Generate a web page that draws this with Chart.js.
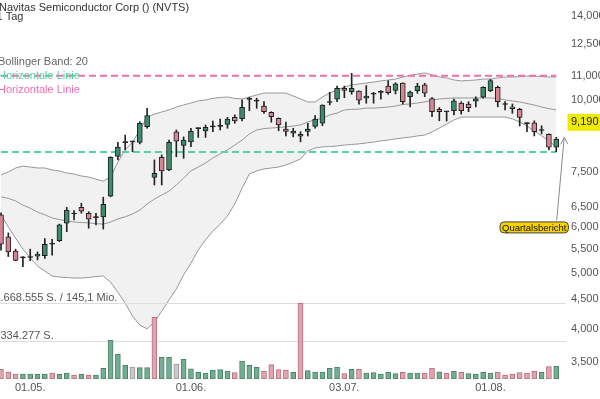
<!DOCTYPE html>
<html lang="de">
<head>
<meta charset="UTF-8">
<title>Navitas Semiconductor Corp (NVTS)</title>
<script src="https://cdn.jsdelivr.net/npm/chart.js@4.4.1/dist/chart.umd.min.js"></script>
<style>
    body { margin: 0; background: #fff; }
    #wrap { width: 600px; height: 399px; }
</style>
</head>
<body>
<div id="wrap"><canvas id="chart" width="600" height="399"></canvas></div>
<script>
// trading days (2023)
const dates = [
    '25.04.','26.04.','27.04.','28.04.',
    '01.05.','02.05.','03.05.','04.05.','05.05.','08.05.','09.05.','10.05.','11.05.','12.05.',
    '15.05.','16.05.','17.05.','18.05.','19.05.','22.05.','23.05.','24.05.','25.05.','26.05.','30.05.','31.05.',
    '01.06.','02.06.','05.06.','06.06.','07.06.','08.06.','09.06.','12.06.','13.06.','14.06.','15.06.','16.06.',
    '20.06.','21.06.','22.06.','23.06.','26.06.','27.06.','28.06.','29.06.','30.06.',
    '03.07.','05.07.','06.07.','07.07.','10.07.','11.07.','12.07.','13.07.','14.07.','17.07.','18.07.','19.07.',
    '20.07.','21.07.','24.07.','25.07.','26.07.','27.07.','28.07.','31.07.',
    '01.08.','02.08.','03.08.','04.08.','07.08.','08.08.','09.08.','10.08.','11.08.','14.08.'
];
const dateTicks = ['01.05.', '01.06.', '03.07.', '01.08.'];

const open = [6.31,5.78,5.46,5.32,5.32,5.35,5.36,5.61,5.69,6.10,
    6.33,6.50,6.35,6.24,6.26,6.80,7.97,8.42,8.45,8.43,
    8.98,7.33,7.94,7.55,8.79,8.33,8.45,8.91,8.83,8.97,
    8.99,9.06,9.32,9.27,10.01,9.94,9.75,9.51,9.28,8.89,
    8.75,8.64,8.81,8.99,9.10,9.89,10.02,10.47,10.33,10.35,
    10.06,10.22,10.30,10.56,10.38,10.69,10.12,10.37,10.61,10.04,
    9.62,9.54,9.57,9.87,9.83,9.94,10.10,10.37,10.51,9.82,
    9.72,9.62,9.10,9.12,8.85,8.71,8.27];
const high = [6.36,5.87,5.50,5.34,5.50,5.44,5.74,5.72,6.08,6.50,
    6.42,6.61,6.39,6.35,6.77,7.96,8.43,8.68,8.46,9.16,
    9.66,7.86,8.02,8.51,8.86,8.62,8.92,8.94,9.04,9.18,
    9.25,9.32,9.41,9.99,10.10,10.06,9.92,9.53,9.30,9.14,
    8.92,8.80,9.10,9.38,9.80,10.30,10.56,10.56,11.11,10.36,
    10.58,10.30,10.37,10.79,10.70,10.70,10.35,10.68,10.68,10.08,
    9.69,9.55,10.02,9.92,9.92,10.12,10.53,10.85,10.56,9.92,
    9.83,9.66,9.12,9.19,9.01,8.72,8.60];
const low = [5.48,5.34,5.25,5.13,5.25,5.27,5.30,5.37,5.67,5.90,
    6.18,6.35,5.98,6.06,5.96,6.78,7.86,8.18,8.12,8.38,
    8.92,7.11,7.11,7.53,7.96,7.91,8.29,8.60,8.60,8.80,
    8.86,8.92,9.10,9.19,9.57,9.66,9.47,9.14,8.83,8.65,
    8.62,8.45,8.65,8.92,9.01,9.79,9.92,10.08,10.22,9.82,
    9.86,9.86,10.02,10.22,10.23,9.83,9.72,10.26,10.12,9.34,
    9.19,9.18,9.41,9.44,9.53,9.72,10.06,10.33,9.72,9.60,
    9.47,9.00,8.80,8.65,8.72,8.18,8.12];
const close = [5.61,5.44,5.26,5.31,5.33,5.39,5.61,5.62,6.06,6.43,
    6.34,6.40,6.20,6.25,6.58,7.94,8.27,8.43,8.45,9.10,
    9.38,7.45,7.52,8.43,8.47,8.51,8.82,8.92,8.95,8.98,
    9.00,9.25,9.19,9.70,10.02,9.95,9.53,9.34,9.04,8.81,
    8.82,8.71,8.89,9.25,9.79,9.90,10.47,10.38,10.47,9.98,
    10.15,10.23,10.31,10.28,10.65,9.92,10.31,10.56,10.26,9.53,
    9.53,9.53,9.95,9.57,9.69,10.03,10.51,10.79,9.92,9.81,
    9.65,9.32,9.09,8.80,8.84,8.27,8.54];

// Bollinger Band (20)
const bbUpper = [7.40,7.49,7.61,7.67,7.64,7.61,7.61,7.55,7.52,7.46,
    7.43,7.37,7.34,7.28,7.22,7.34,7.79,8.18,8.44,8.86,
    9.33,9.44,9.52,9.60,9.71,9.79,9.87,9.95,9.99,10.05,
    10.09,10.11,10.05,10.03,10.11,10.19,10.27,10.27,10.27,10.27,
    10.15,10.03,9.91,9.91,10.11,10.27,10.40,10.52,10.61,10.65,
    10.69,10.73,10.78,10.82,10.86,10.95,11.02,11.08,11.13,11.04,
    10.95,10.91,10.82,10.78,10.80,10.82,10.86,10.86,10.91,10.95,
    10.95,10.97,10.99,10.99,10.97,10.95,10.95];
const bbMiddle = [6.78,6.74,6.67,6.56,6.48,6.38,6.31,6.23,6.19,6.16,
    6.13,6.12,6.11,6.09,6.08,6.13,6.21,6.26,6.33,6.43,
    6.59,6.72,6.83,6.94,7.11,7.31,7.52,7.64,7.76,7.92,
    8.05,8.18,8.34,8.51,8.72,8.86,8.91,8.93,8.95,8.97,
    9.00,9.04,9.15,9.22,9.29,9.41,9.48,9.60,9.62,9.63,
    9.67,9.67,9.69,9.71,9.75,9.81,9.83,9.87,9.91,9.97,
    10.03,10.05,10.07,10.07,10.07,10.07,10.07,10.07,10.05,9.99,
    9.95,9.91,9.85,9.79,9.71,9.65,9.60];
const bbLower = [6.31,6.01,5.75,5.50,5.31,5.14,5.04,4.94,4.92,4.91,
    4.90,4.90,4.91,4.93,4.94,4.82,4.63,4.43,4.21,4.06,
    4.00,4.11,4.29,4.49,4.69,4.96,5.20,5.48,5.71,5.91,
    6.08,6.28,6.59,7.02,7.43,7.52,7.58,7.61,7.64,7.70,
    7.79,7.89,8.15,8.24,8.28,8.29,8.31,8.34,8.36,8.38,
    8.41,8.44,8.48,8.51,8.55,8.58,8.61,8.65,8.68,8.79,
    8.93,9.07,9.22,9.33,9.33,9.33,9.33,9.33,9.33,9.33,
    9.26,9.15,9.00,8.82,8.65,8.48,8.28];

// volume (Stück) and direction vs. previous close: u = up, d = down, n = unchanged
const volume = [630000,591000,556000,556000,556000,550000,556000,571000,556000,571000,
    541000,556000,541000,541000,647000,1378000,941000,701000,670000,658000,
    658000,2525000,868000,868000,726000,823000,640000,582000,571000,619000,
    624000,602000,576000,787000,701000,665000,602000,713000,624000,619000,
    582000,3668555,608000,587000,587000,647000,665000,561000,630000,630000,
    571000,576000,556000,582000,561000,582000,571000,571000,571000,653000,
    591000,567000,599000,582000,561000,556000,582000,571000,587000,541000,
    556000,576000,571000,602000,582000,676000,683000];
const volDir = ['d','d','d','u','u','u','u','d','u','u',
    'd','u','d','u','u','u','u','u','n','u',
    'u','d','u','u','n','u','u','u','u','u',
    'u','u','d','u','u','u','d','d','d','d',
    'u','d','u','u','u','u','u','d','u','d',
    'u','u','u','u','u','d','u','u','d','d',
    'u','d','u','d','u','u','u','u','d','d',
    'd','d','d','d','u','d','u'];
const volMax = 3668555;
const volAvg = 1334277;

const priceTicks = [3.5, 4, 4.5, 5, 5.5, 6, 6.5, 7.5, 10, 11, 12.5, 14];
const hLinePink = 11.0;
const hLineGreen = 8.11;
const lastPrice = 9.19;
const eventDate = '14.08.';
const eventPrice = 6.0;

// axis ranges
const xMin = -0.137, xMax = 77.34;
const yMin = 3.272, yMax = 14.90;
const volMin = 486500, volTop = 1.206e10;

const family = '"Liberation Sans", Arial, sans-serif';
const pink = '#f06eb0';
const green = '#55d4a2';

const fmtPrice = v => v.toFixed(3).replace('.', ',');
const idx = dates.map((_, i) => i);

const bodyColors = close.map((c, i) => Math.abs(c - open[i]) < 0.015 ? '#1e1e1e' : (c > open[i] ? '#3c8c6c' : '#d68593'));
const volFill = { u: '#74ad94', d: '#e2a4ae', n: '#c9c9c9' };
const volLine = { u: '#4a8468', d: '#b4707c', n: '#9b9b9b' };

const overlay = {
    id: 'overlay',
    afterDatasetDraw(chart, args) {
        // volume reference lines sit on top of the band fill
        if (args.index !== 0) return;
        const { ctx, chartArea: a } = chart;
        const v = chart.scales.vol;
        ctx.save();
        ctx.font = '11px ' + family;
        ctx.strokeStyle = '#dcdcdc';
        ctx.lineWidth = 1;
        ctx.fillStyle = '#555';
        const rows = [
            [volMax, volMax.toLocaleString('de-DE') + ' S. / 145,1 Mio.', '3'],
            [volAvg, volAvg.toLocaleString('de-DE') + ' S.', '1.']
        ];
        rows.forEach(([val, text, hidden]) => {
            const py = Math.round(v.getPixelForValue(val)) + 0.5;
            ctx.beginPath();
            ctx.moveTo(a.left, py);
            ctx.lineTo(a.right, py);
            ctx.stroke();
            ctx.fillText(text, 0.5 - ctx.measureText(hidden).width, py - 3);
        });
        ctx.restore();
    },
    afterDraw(chart) {
        const { ctx, chartArea: a, scales: { x, y } } = chart;
        ctx.save();
        ctx.font = '11px ' + family;
        ctx.textBaseline = 'alphabetic';
        ctx.fillStyle = '#333';
        ctx.fillText('Navitas Semiconductor Corp () (NVTS)', -1, 10.5);
        ctx.fillText('1 Tag', -3.5, 20.2);
        ctx.fillStyle = '#666';
        ctx.fillText('Bollinger Band: 20', -2, 65);
        ctx.fillStyle = green;
        ctx.fillText('Horizontale Linie', -2, 79);
        ctx.fillStyle = pink;
        ctx.fillText('Horizontale Linie', -2, 93);

        // last price tag
        const py = y.getPixelForValue(lastPrice);
        ctx.fillStyle = '#eeea00';
        ctx.fillRect(a.right + 1.5, py - 7, 40, 17);
        ctx.fillStyle = '#222';
        ctx.textBaseline = 'middle';
        ctx.fillText(fmtPrice(lastPrice), a.right + 5, py + 1.5);

        // event marker
        const ei = dates.indexOf(eventDate);
        const ex = x.getPixelForValue(ei);
        const tipX = ex + 8, tipY = y.getPixelForValue(high[ei]);
        const ly = y.getPixelForValue(eventPrice);
        ctx.strokeStyle = '#8a8a8a';
        ctx.lineWidth = 1;
        ctx.beginPath();
        ctx.moveTo(ex + 0.5, ly - 7);
        ctx.lineTo(tipX, tipY);
        ctx.moveTo(tipX - 3.5, tipY + 7);
        ctx.lineTo(tipX, tipY);
        ctx.lineTo(tipX + 3.5, tipY + 6.5);
        ctx.stroke();

        ctx.font = '9.5px ' + family;
        const label = 'Quartalsbericht';
        const tw = ctx.measureText(label).width;
        const bw = tw + 4, bh = 11;
        const bx = ex - 22 - bw / 2, by = ly - bh / 2;
        ctx.beginPath();
        ctx.roundRect(bx, by, bw, bh, 4);
        ctx.fillStyle = '#f6d200';
        ctx.fill();
        ctx.strokeStyle = '#444';
        ctx.stroke();
        ctx.fillStyle = '#111';
        ctx.fillText(label, bx + 2, ly + 0.5);
        ctx.restore();
    }
};

new Chart(document.getElementById('chart'), {
    type: 'bar',
    data: {
        datasets: [
            {
                type: 'line', data: idx.map(i => ({ x: i, y: bbUpper[i] })),
                borderColor: '#979797', borderWidth: 1, pointRadius: 0, fill: false, order: 4
            },
            {
                type: 'line', data: idx.map(i => ({ x: i, y: bbMiddle[i] })),
                borderColor: '#979797', borderWidth: 1, pointRadius: 0, fill: false, order: 4
            },
            {
                type: 'line', data: idx.map(i => ({ x: i, y: bbLower[i] })),
                borderColor: '#979797', borderWidth: 1, pointRadius: 0,
                fill: '-2', backgroundColor: '#f1f1f1', order: 4
            },
            {
                data: idx.map(i => ({ x: i, y: volume[i] })),
                yAxisID: 'vol',
                backgroundColor: volDir.map(d => volFill[d]),
                borderColor: volDir.map(d => volLine[d]),
                borderWidth: 1, borderSkipped: false,
                barThickness: 5, grouped: false, order: 3
            },
            {
                type: 'line', data: [{ x: 0, y: hLinePink }, { x: dates.length - 1, y: hLinePink }],
                borderColor: pink, borderWidth: 2, borderDash: [7, 4], pointRadius: 0, order: 2
            },
            {
                type: 'line', data: [{ x: 0, y: hLineGreen }, { x: dates.length - 1, y: hLineGreen }],
                borderColor: green, borderWidth: 2, borderDash: [7, 4], pointRadius: 0, order: 2
            },
            {
                // wicks
                data: idx.map(i => ({ x: i, y: [low[i], high[i]] })),
                backgroundColor: '#222', borderWidth: 0,
                barThickness: 1, grouped: false, order: 1
            },
            {
                // bodies
                data: idx.map(i => ({ x: i, y: [Math.min(open[i], close[i]), Math.max(open[i], close[i])] })),
                backgroundColor: bodyColors, borderColor: '#1e1e1e',
                borderWidth: 1, borderSkipped: false, minBarLength: 1,
                barThickness: 5, grouped: false, order: 0
            }
        ]
    },
    options: {
        responsive: false,
        animation: false,
        events: [],
        devicePixelRatio: 1,
        layout: { padding: 0 },
        plugins: { legend: { display: false }, tooltip: { enabled: false } },
        scales: {
            x: {
                type: 'linear', min: xMin, max: xMax, offset: false,
                grid: { display: false, drawTicks: false }, border: { display: false },
                ticks: {
                    color: '#555', font: { size: 11, family }, padding: 2,
                    maxRotation: 0, autoSkip: false,
                    callback: v => dates[v]
                },
                afterBuildTicks: s => { s.ticks = dateTicks.map(d => ({ value: dates.indexOf(d) })); },
                afterFit: s => { s.height = 20; s.paddingLeft = 0; s.paddingRight = 0; }
            },
            y: {
                type: 'logarithmic', position: 'right', min: yMin, max: yMax, bounds: 'data',
                grid: { display: false, drawTicks: false }, border: { display: false },
                ticks: {
                    color: '#555', font: { size: 11, family }, padding: 5, autoSkip: false,
                    callback: v => fmtPrice(v)
                },
                afterBuildTicks: s => { s.ticks = priceTicks.map(v => ({ value: v })); },
                afterFit: s => { s.width = 34; s.paddingTop = 0; s.paddingBottom = 0; }
            },
            vol: {
                axis: 'y', type: 'logarithmic', position: 'left', display: false,
                min: volMin, max: volTop, bounds: 'data'
            }
        }
    },
    plugins: [overlay]
});
</script>
</body>
</html>
